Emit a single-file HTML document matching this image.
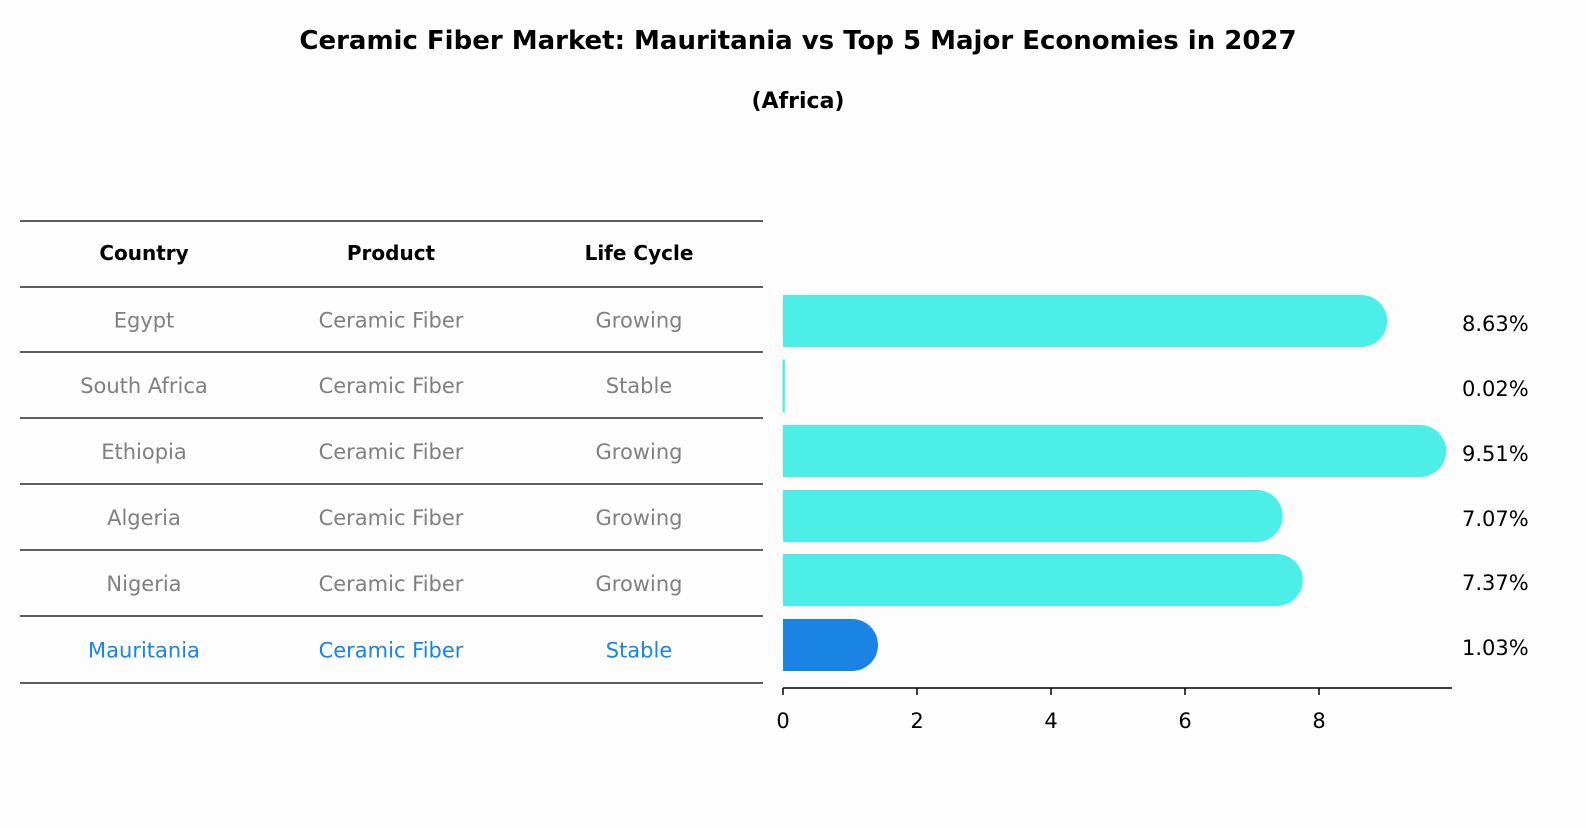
<!DOCTYPE html>
<html><head><meta charset="utf-8"><style>
body{margin:0;background:#fdfdfd;width:1586px;height:823px;overflow:hidden;}
svg, svg text{font-family:"DejaVu Sans","Liberation Sans",sans-serif;}
</style></head><body>
<svg width="1586" height="823" xmlns="http://www.w3.org/2000/svg">
<text x="798" y="49" text-anchor="middle" font-size="26" font-weight="bold">Ceramic Fiber Market: Mauritania vs Top 5 Major Economies in 2027</text>
<text x="798" y="108" text-anchor="middle" font-size="22" font-weight="bold">(Africa)</text>
<g id="table"></g>
<g id="bars"></g>
</svg>
<script>
const countries=["Egypt","South Africa","Ethiopia","Algeria","Nigeria","Mauritania"];
const products=["Ceramic Fiber","Ceramic Fiber","Ceramic Fiber","Ceramic Fiber","Ceramic Fiber","Ceramic Fiber"];
const lifeCycles=["Growing","Stable","Growing","Growing","Growing","Stable"];
const values=[8.63,0.02,9.51,7.07,7.37,1.03];
const ticks=[0,2,4,6,8];
const NS="http://www.w3.org/2000/svg";
function mk(tag,attrs,parent,txt){const e=document.createElementNS(NS,tag);for(const k in attrs)e.setAttribute(k,attrs[k]);if(txt!==undefined)e.textContent=txt;parent.appendChild(e);return e;}
const tbl=document.getElementById('table');
const lines=[221,287,352,418,484,550,616,683];
const colX=[144,391,639];
lines.forEach(y=>{const l=mk('line',{x1:20,x2:763,y1:y,y2:y,stroke:'#000','stroke-width':1.2},tbl);

});
["Country","Product","Life Cycle"].forEach((h,i)=>{const t=mk('text',{x:colX[i],y:260,'text-anchor':'middle','font-size':20,'font-weight':'bold'},tbl,h);

});
const rowY=i=>(lines[i+1]+lines[i+2])/2;
countries.forEach((c,i)=>{const col=i===countries.length-1?'#1a84e4':'#808080';
[c,products[i],lifeCycles[i]].forEach((v,j)=>{const t=mk('text',{x:colX[j],y:rowY(i)+8,'text-anchor':'middle','font-size':21,fill:col},tbl,v);

});});
const g=document.getElementById('bars');
const x0=783,ppu=67;
const X=v=>x0+v*ppu;
const barY=i=>[321,386,451,516,580,645][i];
const bh=52;
countries.forEach((c,i)=>{const v=values[i];const y=barY(i);const col=i===countries.length-1?'#1a84e4':'#4deee8';
const w=X(v)-x0;const r=v>0.1?bh/2:0;
const p=mk('path',{d:`M${x0},${y-bh/2} h${w} a${r},${r} 0 0 1 0,${bh} h${-w} z`,fill:col},g);
if(r===0)p.setAttribute('stroke',col);


const t=mk('text',{x:1462,y:y+10,'font-size':21},g,v.toFixed(2)+'%');

});
const ax=mk('line',{x1:x0,x2:1452,y1:688,y2:688,stroke:'#000','stroke-width':1.5},g);


ticks.forEach(v=>{const l=mk('line',{x1:X(v),x2:X(v),y1:688,y2:695,stroke:'#000','stroke-width':1.5},g);


const t=mk('text',{x:X(v),y:728,'text-anchor':'middle','font-size':21},g,String(v));

});
</script>
</body></html>
